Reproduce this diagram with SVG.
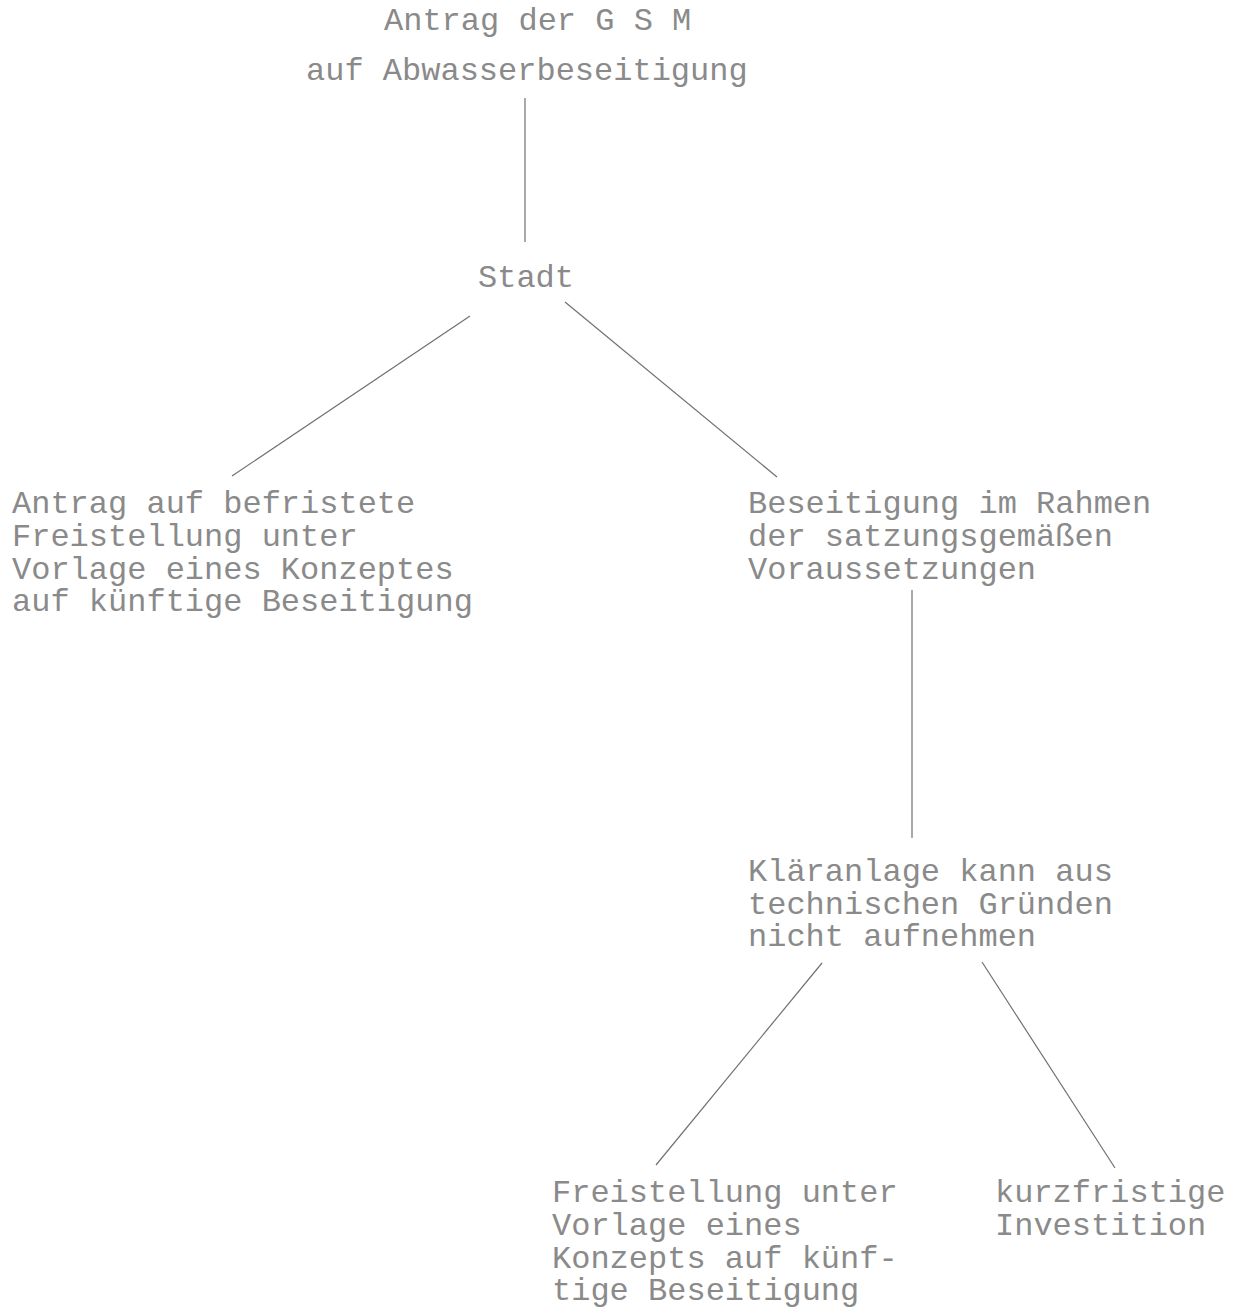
<svg xmlns="http://www.w3.org/2000/svg" width="1238" height="1308" viewBox="0 0 1238 1308">
<style>
text{font-family:"Liberation Mono","Courier New",monospace;font-size:32px;fill:#8a8a8a;}
.c line{stroke:#707070;stroke-width:1.2;fill:none;}
</style>
<rect width="1238" height="1308" fill="#ffffff"/>
<g class="c" id="connectors">
<line x1="525" y1="98" x2="525" y2="242"/>
<line x1="470" y1="316" x2="232" y2="476"/>
<line x1="565" y1="302" x2="777" y2="477"/>
<line x1="912" y1="590" x2="912" y2="838"/>
<line x1="822" y1="963" x2="656" y2="1165"/>
<line x1="982" y1="962" x2="1115" y2="1168"/>
</g>
<g id="n-antrag">
<text x="384" y="30">Antrag der G S M</text>
<text x="306" y="80">auf Abwasserbeseitigung</text>
</g>
<g id="n-stadt">
<text x="478" y="287">Stadt</text>
</g>
<g id="n-befristet">
<text x="12" y="513">Antrag auf befristete</text>
<text x="12" y="546">Freistellung unter</text>
<text x="12" y="579">Vorlage eines Konzeptes</text>
<text x="12" y="611">auf künftige Beseitigung</text>
</g>
<g id="n-beseitigung">
<text x="748" y="513">Beseitigung im Rahmen</text>
<text x="748" y="546">der satzungsgemäßen</text>
<text x="748" y="579">Voraussetzungen</text>
</g>
<g id="n-klaeranlage">
<text x="748" y="881">Kläranlage kann aus</text>
<text x="748" y="914">technischen Gründen</text>
<text x="748" y="946">nicht aufnehmen</text>
</g>
<g id="n-freistellung">
<text x="552" y="1202">Freistellung unter</text>
<text x="552" y="1235">Vorlage eines</text>
<text x="552" y="1268">Konzepts auf künf-</text>
<text x="552" y="1300">tige Beseitigung</text>
</g>
<g id="n-investition">
<text x="995" y="1202">kurzfristige</text>
<text x="995" y="1235">Investition</text>
</g>
</svg>
